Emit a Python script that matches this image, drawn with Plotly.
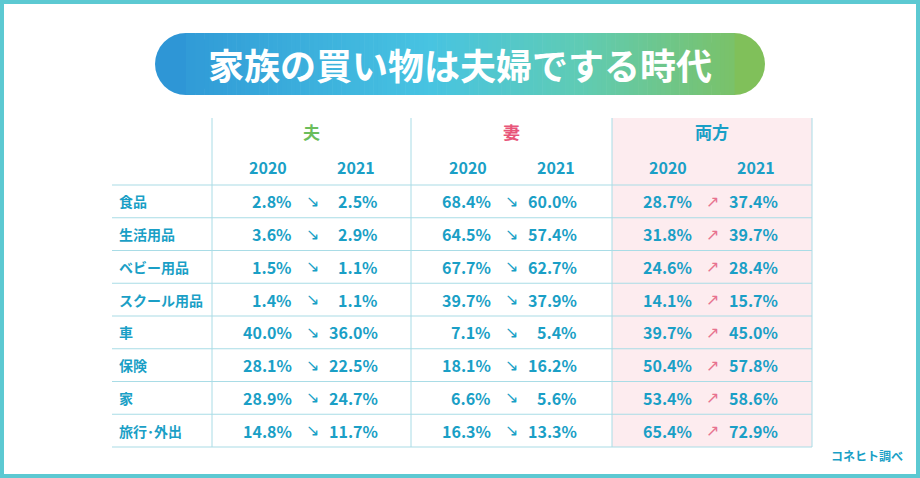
import plotly.graph_objects as go

categories = ["食品", "生活用品", "ベビー用品", "スクール用品", "車", "保険", "家", "旅行･外出"]
husband_2020 = [2.8, 3.6, 1.5, 1.4, 40.0, 28.1, 28.9, 14.8]
husband_2021 = [2.5, 2.9, 1.1, 1.1, 36.0, 22.5, 24.7, 11.7]
wife_2020 = [68.4, 64.5, 67.7, 39.7, 7.1, 18.1, 6.6, 16.3]
wife_2021 = [60.0, 57.4, 62.7, 37.9, 5.4, 16.2, 5.6, 13.3]
both_2020 = [28.7, 31.8, 24.6, 14.1, 39.7, 50.4, 53.4, 65.4]
both_2021 = [37.4, 39.7, 28.4, 15.7, 45.0, 57.8, 58.6, 72.9]
groups = ["夫", "妻", "両方"]
years = ["2020", "2021"]
title = "家族の買い物は夫婦でする時代"
source = "コネヒト調べ"

TEAL = "#1A9FC6"
LINE = "#A9DCE6"
FONT = "Noto Sans CJK JP"
group_colors = ["#6BBD5B", "#E8557A", TEAL]

fig = go.Figure()
shapes, ann = [], []

shapes.append(dict(type="rect", x0=2, y0=2, x1=918, y1=476, line=dict(color="#5CC9D2", width=4)))

def lerp(c1, c2, t):
    return "#%02x%02x%02x" % tuple(int(a + (b - a) * t) for a, b in zip(c1, c2))
stops = [(0.0, (46, 150, 214)), (0.45, (72, 196, 226)), (0.7, (96, 204, 180)), (1.0, (128, 192, 90))]
def grad(t):
    t = min(max(t, 0), 1)
    for (t0, c0), (t1, c1) in zip(stops, stops[1:]):
        if t <= t1:
            return lerp(c0, c1, (t - t0) / (t1 - t0))
    return lerp(stops[-1][1], stops[-1][1], 0)
px0, px1, py0, py1 = 155, 765, 33, 95
r = (py1 - py0) / 2
shapes.append(dict(type="circle", x0=px0, x1=px0 + 2 * r, y0=py0, y1=py1, fillcolor=grad(0), line=dict(width=0)))
shapes.append(dict(type="circle", x0=px1 - 2 * r, x1=px1, y0=py0, y1=py1, fillcolor=grad(1), line=dict(width=0)))
n = 120
w = (px1 - px0 - 2 * r) / n
for i in range(n):
    x0 = px0 + r + i * w
    shapes.append(dict(type="rect", x0=x0, x1=x0 + w + 0.6, y0=py0, y1=py1,
                       fillcolor=grad((x0 + w / 2 - px0) / (px1 - px0)), line=dict(width=0)))
ann.append(dict(x=460, y=64, text="<b>%s</b>" % title, font=dict(size=36, color="white", family=FONT), showarrow=False))

row_top = 185
row_h = 32.75
vlines = [212, 411, 612, 812]
table_bottom = row_top + row_h * len(categories)
shapes.append(dict(type="rect", x0=612, x1=812, y0=118, y1=table_bottom, fillcolor="#FDECEF", line=dict(width=0), layer="below"))
for x in vlines:
    shapes.append(dict(type="line", x0=x, x1=x, y0=118, y1=table_bottom, line=dict(color=LINE, width=1)))
for i in range(len(categories) + 1):
    y = row_top + i * row_h
    shapes.append(dict(type="line", x0=112, x1=812, y0=y, y1=y, line=dict(color=LINE, width=1.2)))

for g, (name, col) in enumerate(zip(groups, group_colors)):
    cx = (vlines[g] + vlines[g + 1]) / 2
    ann.append(dict(x=cx, y=131, text="<b>%s</b>" % name, font=dict(size=17, color=col, family=FONT), showarrow=False))
    for k, yr in enumerate(years):
        ann.append(dict(x=cx - 44 + k * 88, y=167, text="<b>%s</b>" % yr, font=dict(size=16, color=TEAL, family=FONT), showarrow=False))

data = [(husband_2020, husband_2021), (wife_2020, wife_2021), (both_2020, both_2021)]
for i, cat in enumerate(categories):
    y = row_top + (i + 0.5) * row_h
    ann.append(dict(x=117, y=y, text="<b>%s</b>" % cat, xanchor="left", font=dict(size=14, color=TEAL, family=FONT), showarrow=False))
    for g, (a, b) in enumerate(data):
        base = vlines[g]
        up = b[i] > a[i]
        ann.append(dict(x=base + 82, y=y, text="<b>%.1f%%</b>" % a[i], xanchor="right", font=dict(size=16, color=TEAL, family=FONT), showarrow=False))
        ann.append(dict(x=base + 100, y=y, text="↗" if up else "↘", font=dict(size=16, color="#E8738F" if up else TEAL, family="DejaVu Sans"), showarrow=False))
        ann.append(dict(x=base + 168, y=y, text="<b>%.1f%%</b>" % b[i], xanchor="right", font=dict(size=16, color=TEAL, family=FONT), showarrow=False))

ann.append(dict(x=905, y=455, text="<b>%s</b>" % source, xanchor="right", font=dict(size=12, color=TEAL, family=FONT), showarrow=False))

fig.update_layout(width=920, height=478, margin=dict(l=0, r=0, t=0, b=0),
                  paper_bgcolor="white", plot_bgcolor="white", shapes=shapes, annotations=ann,
                  xaxis=dict(range=[0, 920], visible=False, fixedrange=True),
                  yaxis=dict(range=[478, 0], visible=False, fixedrange=True), showlegend=False)
fig.write_html("out.html", config={"displayModeBar": False},
               post_script="document.body.style.margin='0';document.body.style.overflow='hidden';")
